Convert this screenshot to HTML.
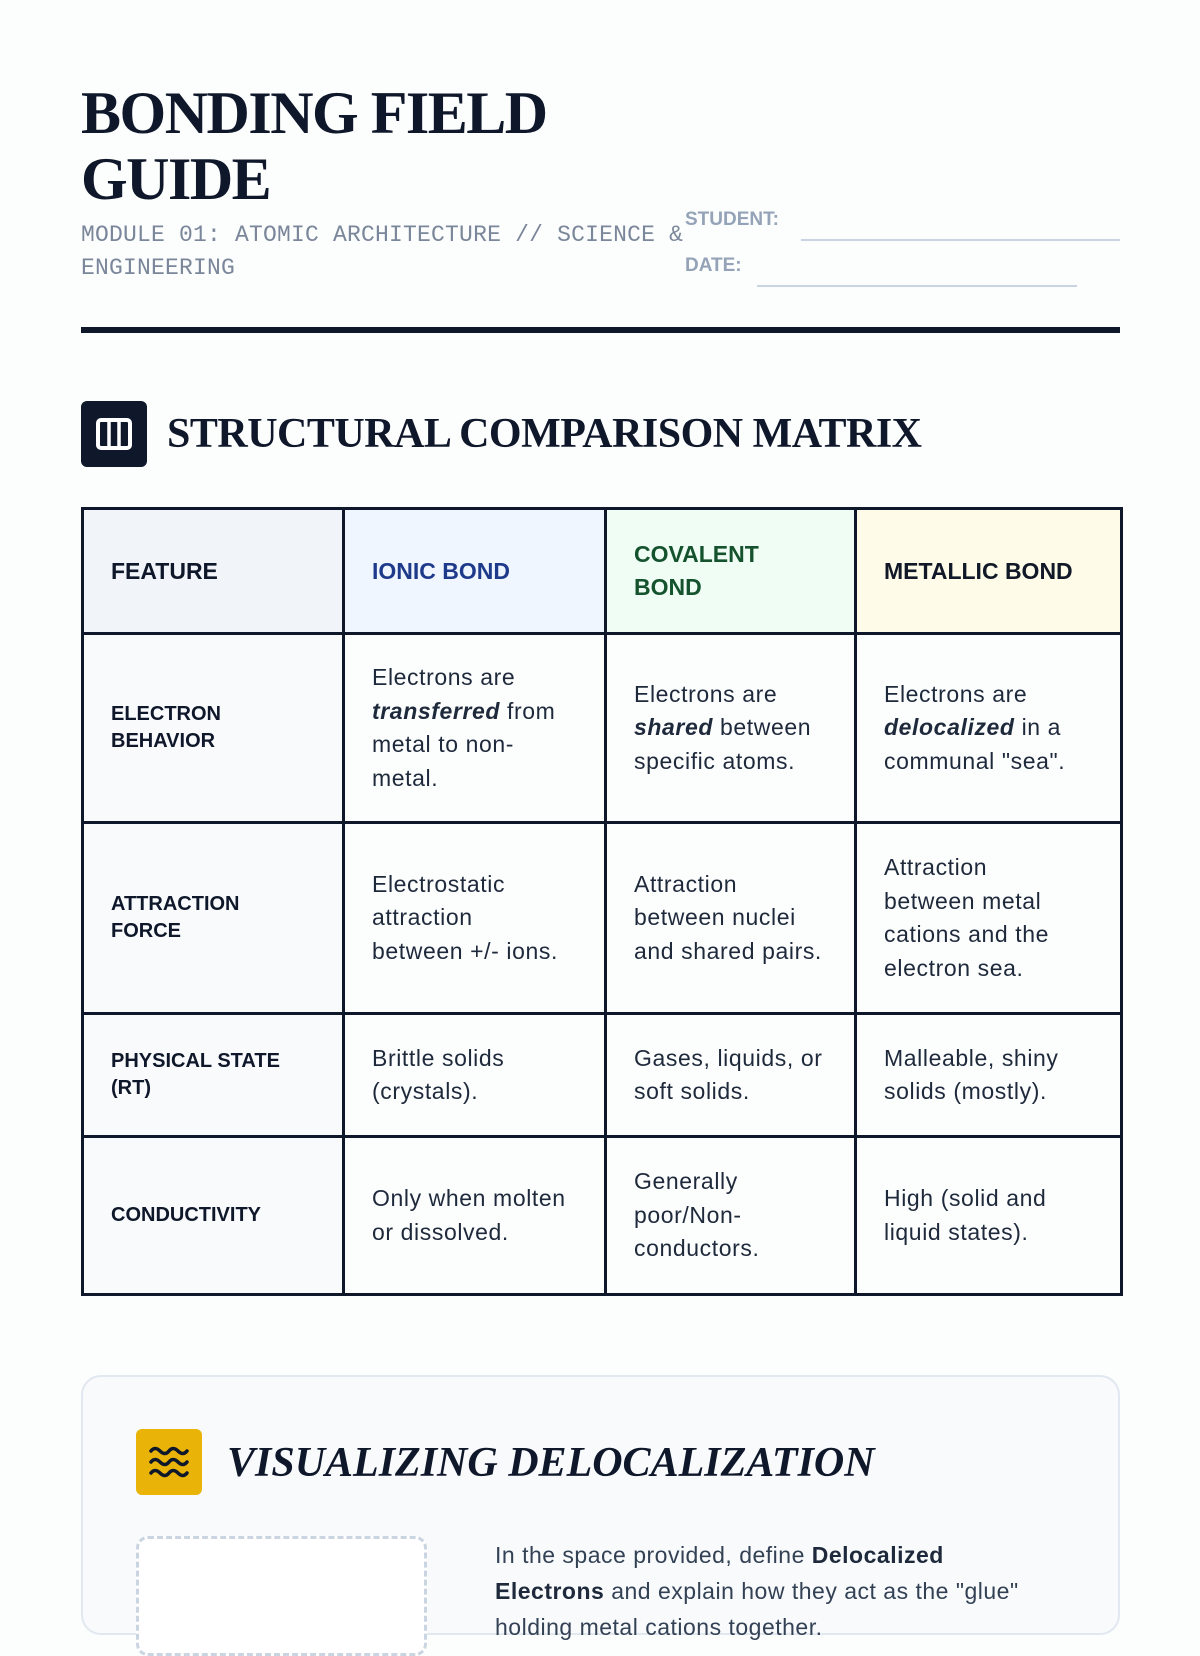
<!DOCTYPE html>
<html><head><meta charset="utf-8"><style>
*{margin:0;padding:0;box-sizing:border-box}
body{width:1200px;height:1600px;overflow:hidden;background:#fcfdfd;font-family:"Liberation Sans",sans-serif;color:#0f172a;position:relative}
.abs{position:absolute}
h1{position:absolute;left:81px;top:80px;font-family:"Liberation Serif",serif;font-weight:bold;font-size:60px;line-height:66px;letter-spacing:-1.5px;color:#0f172a}
.sub{left:81px;top:219px;font-family:"Liberation Mono",monospace;font-size:23px;line-height:33px;color:#7a8699;width:610px;letter-spacing:0.2px}
.lbl{font-weight:bold;font-size:19px;color:#94a3b8}
.line{height:2px;background:#cbd5e1}
table{position:absolute;left:81px;top:507px;border-collapse:collapse;table-layout:fixed;width:1039px}
td{border:3px solid #0f172a;padding:0 40px 0 27px;font-size:23px;line-height:33.5px;color:#1e293b;vertical-align:middle;letter-spacing:0.6px}
td.c{padding-right:20px}
td.f{background:#f8fafc;font-weight:bold;font-size:20px;line-height:27px;color:#0f172a;letter-spacing:0;padding-right:40px}
tr.h td{font-weight:bold;font-size:23px;line-height:33px;letter-spacing:0}
b i, i b{font-weight:bold;font-style:italic}
</style></head><body>
<h1>BONDING FIELD<br>GUIDE</h1>
<div class="abs sub">MODULE 01: ATOMIC ARCHITECTURE // SCIENCE &amp; ENGINEERING</div>
<div class="abs lbl" style="left:685px;top:209px">STUDENT:</div>
<div class="abs line" style="left:801px;top:239px;width:319px"></div>
<div class="abs lbl" style="left:685px;top:255px">DATE:</div>
<div class="abs line" style="left:757px;top:285px;width:320px"></div>
<div class="abs" style="left:81px;top:327px;width:1039px;height:6px;background:#0f172a"></div>

<div class="abs" style="left:81px;top:401px;width:66px;height:66px;background:#0f172a;border-radius:6px">
<svg width="66" height="66"><rect x="17" y="19" width="32" height="28" rx="3" fill="none" stroke="#fff" stroke-width="4"/><line x1="28" y1="19" x2="28" y2="47" stroke="#fff" stroke-width="3.5"/><line x1="38" y1="19" x2="38" y2="47" stroke="#fff" stroke-width="3.5"/></svg></div>
<div class="abs" style="left:167px;top:408px;font-family:'Liberation Serif',serif;font-weight:bold;font-size:42px;line-height:52px;letter-spacing:-0.5px;color:#0f172a">STRUCTURAL COMPARISON MATRIX</div>

<table>
<colgroup><col style="width:261px"><col style="width:262px"><col style="width:250px"><col style="width:266px"></colgroup>
<tr class="h" style="height:125px"><td class="f" style="background:#f1f5f9;font-size:23px">FEATURE</td><td style="background:#eff6ff;color:#1e3a8a">IONIC BOND</td><td class="c" style="background:#f0fdf4;color:#14532d">COVALENT<br>BOND</td><td class="c" style="background:#fefce8;color:#111827">METALLIC BOND</td></tr>
<tr style="height:189px"><td class="f">ELECTRON<br>BEHAVIOR</td><td>Electrons are <b><i>transferred</i></b> from metal to non-metal.</td><td class="c">Electrons are <b><i>shared</i></b> between specific atoms.</td><td>Electrons are <b><i>delocalized</i></b> in a communal "sea".</td></tr>
<tr style="height:191px"><td class="f">ATTRACTION<br>FORCE</td><td>Electrostatic attraction between +/- ions.</td><td class="c">Attraction between nuclei and shared pairs.</td><td>Attraction<br>between metal cations and the electron sea.</td></tr>
<tr style="height:123px"><td class="f">PHYSICAL STATE<br>(RT)</td><td>Brittle solids (crystals).</td><td class="c">Gases, liquids, or soft solids.</td><td>Malleable, shiny solids (mostly).</td></tr>
<tr style="height:158px"><td class="f">CONDUCTIVITY</td><td class="c">Only when molten or dissolved.</td><td class="c">Generally poor/Non-conductors.</td><td>High (solid and liquid states).</td></tr>
</table>

<div class="abs" style="left:81px;top:1375px;width:1039px;height:260px;background:#f8fafc;border:2px solid #e2e8f0;border-radius:20px"></div>
<div class="abs" style="left:136px;top:1429px;width:66px;height:66px;background:#eab308;border-radius:6px">
<svg width="66" height="66" fill="none" stroke="#0f172a" stroke-width="3.5" stroke-linecap="round"><path d="M15 22q4-5 9 0t9 0t9 0t9 0"/><path d="M15 33q4-5 9 0t9 0t9 0t9 0"/><path d="M15 44q4-5 9 0t9 0t9 0t9 0"/></svg></div>
<div class="abs" style="left:227px;top:1437px;font-family:'Liberation Serif',serif;font-weight:bold;font-style:italic;font-size:42px;line-height:52px;color:#0f172a">VISUALIZING DELOCALIZATION</div>
<div class="abs" style="left:136px;top:1536px;width:291px;height:120px;background:#fff;border:3px dashed #cbd5e1;border-radius:12px"></div>
<div class="abs" style="left:495px;top:1537px;width:545px;font-size:23px;line-height:36px;color:#334155;letter-spacing:0.5px">In the space provided, define <b style="color:#1e293b">Delocalized Electrons</b> and explain how they act as the "glue" holding metal cations together.</div>
</body></html>
